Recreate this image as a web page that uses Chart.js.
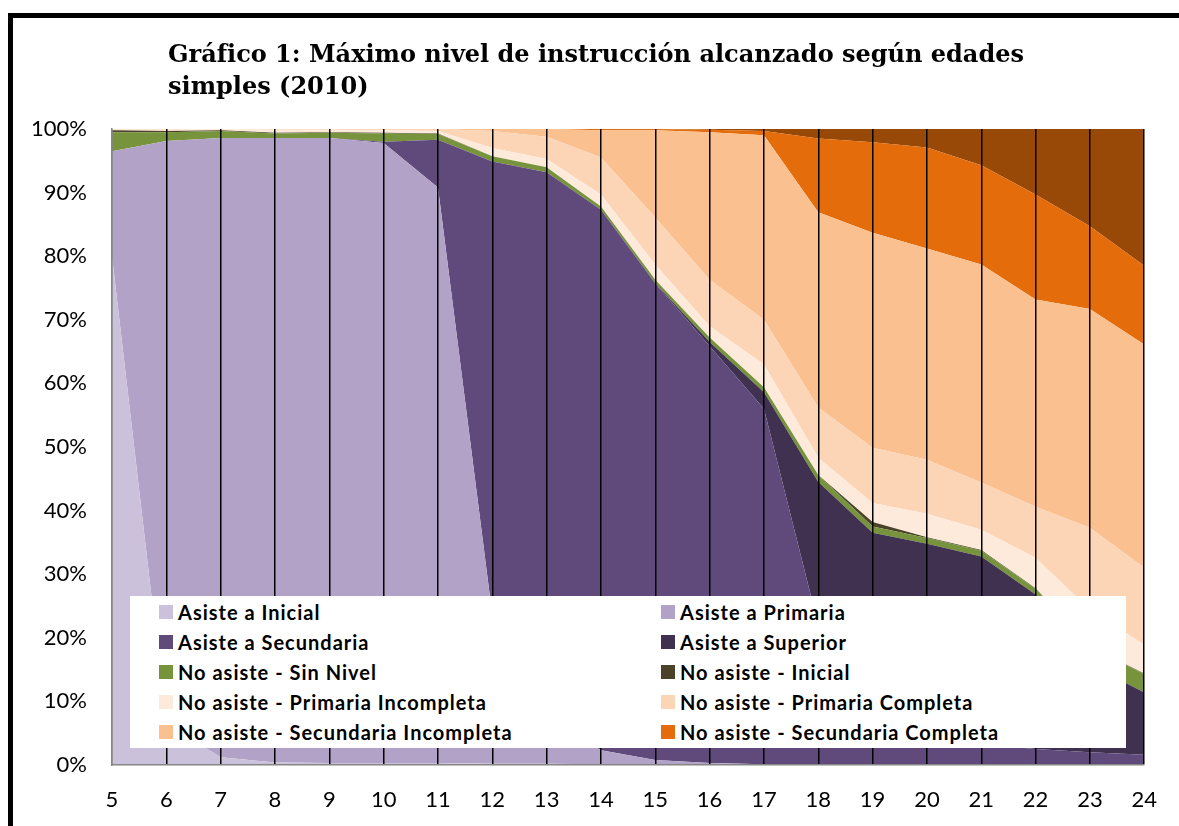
<!DOCTYPE html>
<html lang="es">
<head>
<meta charset="utf-8">
<title>Gráfico 1</title>
<script src="https://cdn.jsdelivr.net/npm/chart.js@4.4.1/dist/chart.umd.min.js"></script>
<style>
  html, body { margin: 0; padding: 0; background: #fff; overflow: hidden; }
  #wrap { position: relative; width: 1179px; height: 826px; }
  #frame {
    position: absolute; left: 8px; top: 13px; width: 1200px; height: 900px;
    border: 5px solid #000; box-sizing: border-box; pointer-events: none; z-index: 3;
  }
  #title {
    position: absolute; left: 168px; top: 38px; z-index: 2;
    font-family: "DejaVu Serif", serif; font-weight: bold; font-size: 24px;
    line-height: 32px; color: #000;
  }
  #chartBox { position: absolute; left: 0; top: 0; width: 1179px; height: 826px; }
  #legend {
    position: absolute; left: 130px; top: 596px; width: 996px; height: 152px;
    background: #fff; z-index: 2;
  }
  .item {
    position: absolute; height: 22px; display: flex; align-items: center;
    font-family: Lato, sans-serif; font-weight: bold; font-size: 20px; color: #000;
    letter-spacing: 1px; white-space: nowrap;
  }
  .item span.box { width: 14px; height: 14px; margin-right: 5px; display: inline-block; }
</style>
</head>
<body>
<div id="wrap">
  <div id="chartBox"><canvas id="areaChart" width="1179" height="826"></canvas></div>
  <div id="title">Gráfico 1: Máximo nivel de instrucción alcanzado según edades<br>simples (2010)</div>
  <div id="legend"></div>
  <div id="frame"></div>
</div>
<script>
// edades simples
const ages = ["5", "6", "7", "8", "9", "10", "11", "12", "13", "14", "15", "16", "17", "18", "19", "20", "21", "22", "23", "24"];

const seriesNames = [
  "Asiste a Inicial",
  "Asiste a Primaria",
  "Asiste a Secundaria",
  "Asiste a Superior",
  "No asiste - Sin Nivel",
  "No asiste - Inicial",
  "No asiste - Primaria Incompleta",
  "No asiste - Primaria Completa",
  "No asiste - Secundaria Incompleta",
  "No asiste - Secundaria Completa",
  "No asiste - Superior",
];
const seriesColors = ["#CCC1DA", "#B3A2C7", "#604A7B", "#403151", "#77933C", "#4A4229", "#FDEADA", "#FBD5B5", "#FAC090", "#E46C0A", "#984807"];

// porcentajes por edad (5 a 24)
const asisteInicial = [80, 6.5, 1.2, 0.4, 0.3, 0.3, 0.3, 0.2, 0.2, 0.1, 0, 0, 0, 0, 0, 0, 0, 0, 0, 0];
const asistePrimaria = [16.5, 91.6, 97.4, 98.2, 98.3, 97.5, 90.5, 23.4, 7.0, 2.2, 0.8, 0.3, 0.1, 0.1, 0, 0, 0, 0, 0, 0];
const asisteSecundaria = [0, 0, 0, 0, 0, 0.2, 7.5, 71.3, 86.0, 85.0, 74.9, 65.6, 55.9, 21.9, 7.0, 4.5, 3.3, 2.5, 2.0, 1.6];
const asisteSuperior = [0, 0, 0, 0, 0, 0, 0, 0, 0, 0, 0.1, 0.6, 2.6, 22.5, 29.5, 30.3, 29.5, 24.3, 13.8, 9.8];
const noSinNivel = [3.0, 1.4, 1.1, 0.7, 0.8, 1.3, 0.9, 0.8, 0.8, 0.5, 0.5, 0.7, 0.8, 1.1, 1.0, 0.9, 0.9, 0.9, 2.7, 2.9];
const noInicial = [0.3, 0.2, 0.1, 0.1, 0.1, 0.1, 0.1, 0, 0, 0, 0, 0, 0, 0, 0.7, 0.1, 0.1, 0.1, 0.1, 0.1];
const noPrimInc = [0.1, 0.2, 0.2, 0.5, 0.4, 0.4, 0.4, 1.3, 1.3, 1.9, 2.4, 1.8, 3.6, 2.7, 3.0, 3.7, 3.2, 4.8, 5.8, 4.5];
const noPrimComp = [0.1, 0.1, 0, 0.1, 0.1, 0.2, 0.3, 2.7, 3.5, 5.8, 7.4, 7.3, 7.0, 7.9, 8.7, 8.5, 7.4, 8.0, 12.9, 12.1];
const noSecInc = [0, 0, 0, 0, 0, 0, 0, 0.3, 1.2, 4.3, 13.7, 23.2, 29.0, 30.7, 33.8, 33.2, 34.3, 32.6, 34.4, 35.1];
const noSecComp = [0, 0, 0, 0, 0, 0, 0, 0, 0, 0.2, 0.2, 0.4, 0.7, 11.6, 14.2, 15.9, 15.6, 16.5, 13.0, 12.4];
const noSuperior = [0, 0, 0, 0, 0, 0, 0, 0, 0, 0, 0, 0.1, 0.3, 1.5, 2.1, 2.9, 5.7, 10.3, 15.3, 21.5];

const seriesValues = [asisteInicial, asistePrimaria, asisteSecundaria, asisteSuperior, noSinNivel, noInicial, noPrimInc, noPrimComp, noSecInc, noSecComp, noSuperior];
const yTicks = [0, 10, 20, 30, 40, 50, 60, 70, 80, 90, 100];

// solo 10 entradas aparecen en la leyenda
const LEGEND_ITEMS = 10;

function buildLegend() {
  const legend = document.getElementById("legend");
  for (let i = 0; i < LEGEND_ITEMS; i++) {
    const col = i % 2;
    const row = Math.floor(i / 2);
    const div = document.createElement("div");
    div.className = "item";
    div.style.left = (col === 0 ? 29 : 531) + "px";
    div.style.top = (5 + row * 30) + "px";
    div.innerHTML = `<span class="box" style="background:${seriesColors[i]}"></span>${seriesNames[i]}`;
    legend.appendChild(div);
  }
}

function createChart(ctx) {
  const datasets = seriesNames.map((name, i) => ({
    label: name,
    data: seriesValues[i],
    backgroundColor: seriesColors[i],
    borderColor: seriesColors[i],
    borderWidth: 0,
    pointRadius: 0,
    tension: 0,
    fill: i === 0 ? "origin" : "-1",
  }));

  return new Chart(ctx, {
    type: "line",
    data: { labels: ages, datasets: datasets },
    options: {
      responsive: false,
      animation: false,
      layout: { padding: { left: 0, top: 129, right: 32, bottom: 0 } },
      scales: {
        x: {
          offset: false,
          grid: {
            z: 1,
            drawTicks: false,
            color: (c) => (c.index === 0 ? "#868686" : "#000"),
            lineWidth: 1.5,
          },
          border: { display: true, color: "#868686", width: 1.5, z: 1 },
          ticks: {
            padding: 22,
            color: "#000",
            font: { family: "Lato", size: 22 },
            maxRotation: 0,
            autoSkip: false,
          },
          afterFit: (s) => { s.height = 61; },
        },
        y: {
          stacked: true,
          min: 0,
          max: 100,
          grid: { display: false, drawTicks: false },
          border: { display: true, color: "#868686", width: 1.5, z: 1 },
          ticks: {
            stepSize: 10,
            padding: 25,
            color: "#000",
            font: { family: "Lato", size: 22 },
            callback: (v) => (yTicks.includes(v) ? v + "%" : ""),
          },
          afterFit: (s) => { s.width = 112; },
        },
      },
      plugins: {
        legend: { display: false },
        tooltip: { enabled: false },
        title: { display: false },
      },
    },
  });
}

document.addEventListener("DOMContentLoaded", () => {
  buildLegend();
  const ctx = document.getElementById("areaChart").getContext("2d");
  createChart(ctx);
});
</script>
</body>
</html>
